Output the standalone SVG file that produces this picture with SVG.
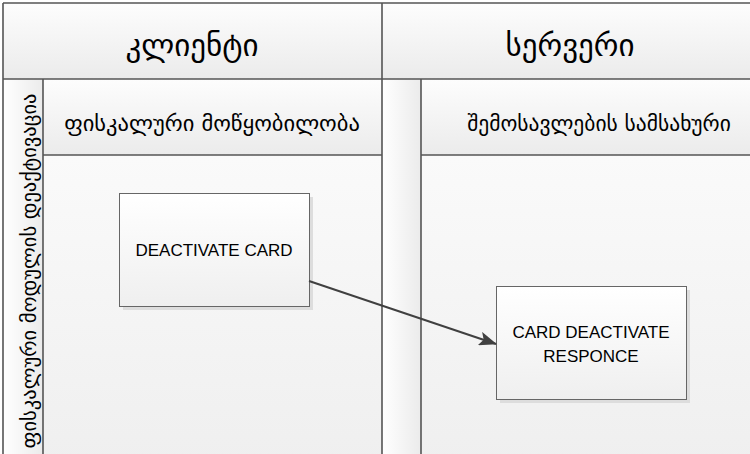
<svg xmlns="http://www.w3.org/2000/svg" width="750" height="454" viewBox="0 0 750 454">
<defs>
<linearGradient id="gHead" x1="0" y1="0" x2="0" y2="1">
<stop offset="0" stop-color="#fdfdfd"/><stop offset="1" stop-color="#ebebeb"/>
</linearGradient>
<linearGradient id="gBody" x1="0" y1="0" x2="0" y2="1">
<stop offset="0" stop-color="#fafafa"/><stop offset="1" stop-color="#efefef"/>
</linearGradient>
<linearGradient id="gStrip" x1="0" y1="0" x2="1" y2="0">
<stop offset="0" stop-color="#ffffff"/><stop offset="1" stop-color="#ebebeb"/>
</linearGradient>
<linearGradient id="gBox" x1="0" y1="0" x2="0" y2="1">
<stop offset="0" stop-color="#ffffff"/><stop offset="1" stop-color="#efefef"/>
</linearGradient>
<marker id="arrow" viewBox="0 0 18 14" refX="17" refY="7" markerWidth="18" markerHeight="14" markerUnits="userSpaceOnUse" orient="auto">
<path d="M0,0 L18,7 L0,14 L4,7 Z" fill="#404040"/>
</marker>
<style>
.ln{stroke:#555;stroke-width:1.6;fill:none}
.geo{font-family:"DejaVu Sans",sans-serif;fill:#000;text-anchor:middle}
.lat{font-family:"Liberation Sans",Arial,sans-serif;font-size:17px;fill:#000;text-anchor:middle}
.box{fill:url(#gBox);stroke:#666;stroke-width:1}
.shadow{fill:#dddddd}
</style>
</defs>
<g id="pool">
<rect x="3" y="3" width="760" height="76" fill="url(#gHead)"/>
<rect x="43" y="79" width="339" height="76" fill="url(#gHead)"/>
<rect x="421" y="79" width="340" height="76" fill="url(#gHead)"/>
<rect x="43" y="155" width="339" height="310" fill="url(#gBody)"/>
<rect x="421" y="155" width="340" height="310" fill="url(#gBody)"/>
<rect x="3" y="79" width="40" height="390" fill="url(#gStrip)"/>
<rect x="382" y="79" width="39" height="390" fill="url(#gStrip)"/>
<path class="ln" d="M3,3 H760 M3,3 V460 M3,79 H760 M43,79 V460 M382,3 V460 M421,79 V460 M43,155 H382 M421,155 H760"/>
</g>
<g id="header-client"><text class="geo" x="192" y="56" font-size="31">კლიენტი</text></g>
<g id="header-server"><text class="geo" x="570" y="56" font-size="31">სერვერი</text></g>
<g id="lane-fiscal-device"><text class="geo" x="212" y="131" font-size="22.5">ფისკალური მოწყობილობა</text></g>
<g id="lane-revenue-service"><text class="geo" x="599" y="131" font-size="21.5">შემოსავლების სამსახური</text></g>
<g id="lane-row-label"><text class="geo" transform="translate(36,271) rotate(-90)" font-size="20.5">ფისკალური მოდულის დეაქტივაცია</text></g>
<g id="node-deactivate-card">
<rect class="shadow" x="123" y="197" width="190" height="113"/>
<rect class="box" x="119.5" y="193.5" width="190" height="113"/>
<text class="lat" x="214" y="256">DEACTIVATE CARD</text>
</g>
<g id="node-card-deactivate-responce">
<rect class="shadow" x="500" y="290" width="190" height="113"/>
<rect class="box" x="496.5" y="286.5" width="190" height="113"/>
<text class="lat" x="591" y="338">CARD DEACTIVATE</text>
<text class="lat" x="591" y="362">RESPONCE</text>
</g>
<g id="connectors">
<line x1="309" y1="281" x2="496" y2="344" stroke="#404040" stroke-width="2" marker-end="url(#arrow)"/>
</g>
</svg>
